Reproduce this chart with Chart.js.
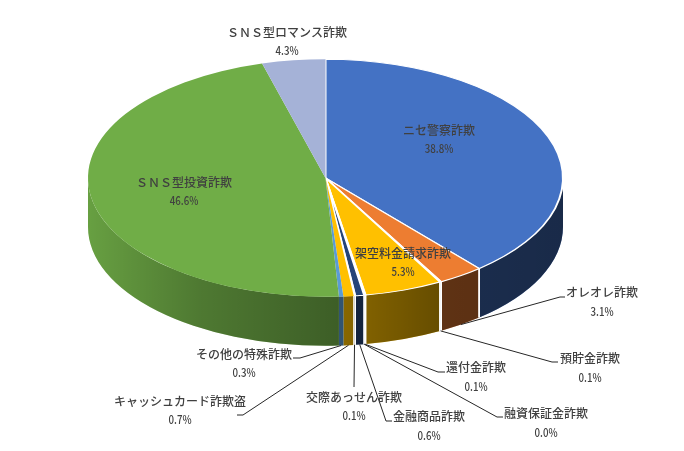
<!DOCTYPE html>
<html>
<head>
<meta charset="utf-8">
<title>特殊詐欺 内訳</title>
<script src="https://cdn.jsdelivr.net/npm/chart.js@4"></script>
<style>
  html, body { margin: 0; padding: 0; background: #fff; }
  #wrap { width: 684px; height: 451px; }
</style>
</head>
<body>
<div id="wrap"><canvas id="chart" width="684" height="451"></canvas></div>
<script>
const categories = ['ニセ警察詐欺', 'オレオレ詐欺', '預貯金詐欺', '架空料金請求詐欺', '還付金詐欺', '融資保証金詐欺',
  '金融商品詐欺', '交際あっせん詐欺', 'キャッシュカード詐欺盗', 'その他の特殊詐欺', 'ＳＮＳ型投資詐欺', 'ＳＮＳ型ロマンス詐欺'];
const values = [38.8, 3.1, 0.1, 5.3, 0.1, 0.0, 0.6, 0.1, 0.7, 0.3, 46.6, 4.3];
const colors = ['#4472c4', '#ed7d31', '#a5a5a5', '#ffc000', '#5b9bd5', '#70ad47', '#264478', '#a5a5a5', '#ffc000', '#5b9bd5', '#70ad47', '#a5b2d7'];
const borders = [2, 2, 1.5, 2, 1.5, 0, 2, 1.5, 0, 0, 0, 0];

// label centre [x, y of name, y of percent]
const labelPos = [[439, 130, 148], [602, 292, 311], [590, 358, 377], [403, 253, 271], [476, 367, 386], [546, 413, 432],
  [429, 416, 435], [354, 397, 415], [180, 401, 419], [244, 354, 372], [184, 182, 200], [287, 32, 50]];
// leader line bend + end, null when the label sits on the slice
const leaders = [null, [[560, 297], [565, 297]], [[552, 362], [558, 362]], null, [[438, 372], [445, 372]], [[497, 417], [503, 417]],
  [[386, 421], [392, 421]], [[354, 387], [354, 387]], [[243, 415], [237, 415]], [[300, 358], [293, 358]], null, null];

const SQUASH = 0.5;   // top face is a flattened circle
const DEPTH = 49;     // height of the side wall
// how dark the wall gets going left to right
const wallShade = [[88, 0.92], [200, 0.70], [340, 0.54], [440, 0.40], [480, 0.39], [563, 0.37]];

function sidePath(ctx, el, a0, a1) {
  const r = el.outerRadius, ry = r * SQUASH;
  ctx.beginPath();
  ctx.ellipse(el.x, el.y, r, ry, 0, a0, a1);
  ctx.ellipse(el.x, el.y + DEPTH, r, ry, 0, a1, a0, true);
  ctx.closePath();
}

const pie3d = {
  id: 'pie3d',
  // side wall first, then flatten what the library draws for the top face
  beforeDatasetsDraw(chart) {
    const ctx = chart.ctx;
    const arcs = chart.getDatasetMeta(0).data;
    const shade = ctx.createLinearGradient(88, 0, 563, 0);
    wallShade.forEach(s => shade.addColorStop((s[0] - 88) / 475, 'rgba(0,0,0,' + (1 - s[1]) + ')'));

    arcs.forEach((el, i) => {
      const a0 = Math.max(el.startAngle, 0), a1 = Math.min(el.endAngle, Math.PI);
      if (a1 <= a0) return;
      sidePath(ctx, el, a0, a1);
      ctx.fillStyle = colors[i];
      ctx.fill();
      ctx.fillStyle = shade;
      ctx.fill();
    });
    // white seams between wall pieces
    arcs.forEach((el, i) => {
      if (!borders[i]) return;
      [el.startAngle, el.endAngle].forEach(a => {
        if (a <= 0 || a >= Math.PI) return;
        const x = el.x + el.outerRadius * Math.cos(a);
        const y = el.y + el.outerRadius * SQUASH * Math.sin(a);
        ctx.beginPath();
        ctx.moveTo(x, y);
        ctx.lineTo(x, y + DEPTH);
        ctx.strokeStyle = '#fff';
        ctx.lineWidth = borders[i] * 0.75;
        ctx.stroke();
      });
    });

    ctx.save();
    ctx.translate(0, arcs[0].y);
    ctx.scale(1, SQUASH);
    ctx.translate(0, -arcs[0].y);
  },
  afterDatasetsDraw(chart) {
    const ctx = chart.ctx;
    ctx.restore();
    const arcs = chart.getDatasetMeta(0).data;

    // leader lines start from the bottom rim of their slice
    ctx.strokeStyle = '#262626';
    ctx.lineWidth = 1;
    arcs.forEach((el, i) => {
      if (!leaders[i]) return;
      const mid = (el.startAngle + el.endAngle) / 2;
      ctx.beginPath();
      ctx.moveTo(el.x + el.outerRadius * Math.cos(mid), el.y + DEPTH + el.outerRadius * SQUASH * Math.sin(mid));
      leaders[i].forEach(p => ctx.lineTo(p[0], p[1]));
      ctx.stroke();
    });

    ctx.fillStyle = '#404040';
    ctx.textAlign = 'center';
    ctx.textBaseline = 'middle';
    categories.forEach((name, i) => {
      ctx.font = '500 12px "Noto Sans CJK JP"';
      ctx.fillText(name, labelPos[i][0], labelPos[i][1]);
      // percent figures are narrower than this font's digits
      ctx.save();
      ctx.translate(labelPos[i][0], labelPos[i][2]);
      ctx.scale(0.81, 1);
      ctx.fillText(values[i].toFixed(1) + '%', 0, 0);
      ctx.restore();
    });
  }
};

new Chart(document.getElementById('chart').getContext('2d'), {
  type: 'pie',
  data: {
    labels: categories,
    datasets: [{
      data: values,
      backgroundColor: colors,
      borderColor: '#ffffff',
      borderWidth: borders,
      borderJoinStyle: 'round',
      clip: false
    }]
  },
  options: {
    responsive: false,
    animation: false,
    radius: 237.5,
    layout: { padding: { left: 0, right: 33, top: 0, bottom: 95 } },
    plugins: { legend: { display: false }, tooltip: { enabled: false } }
  },
  plugins: [pie3d]
});
</script>
</body>
</html>
